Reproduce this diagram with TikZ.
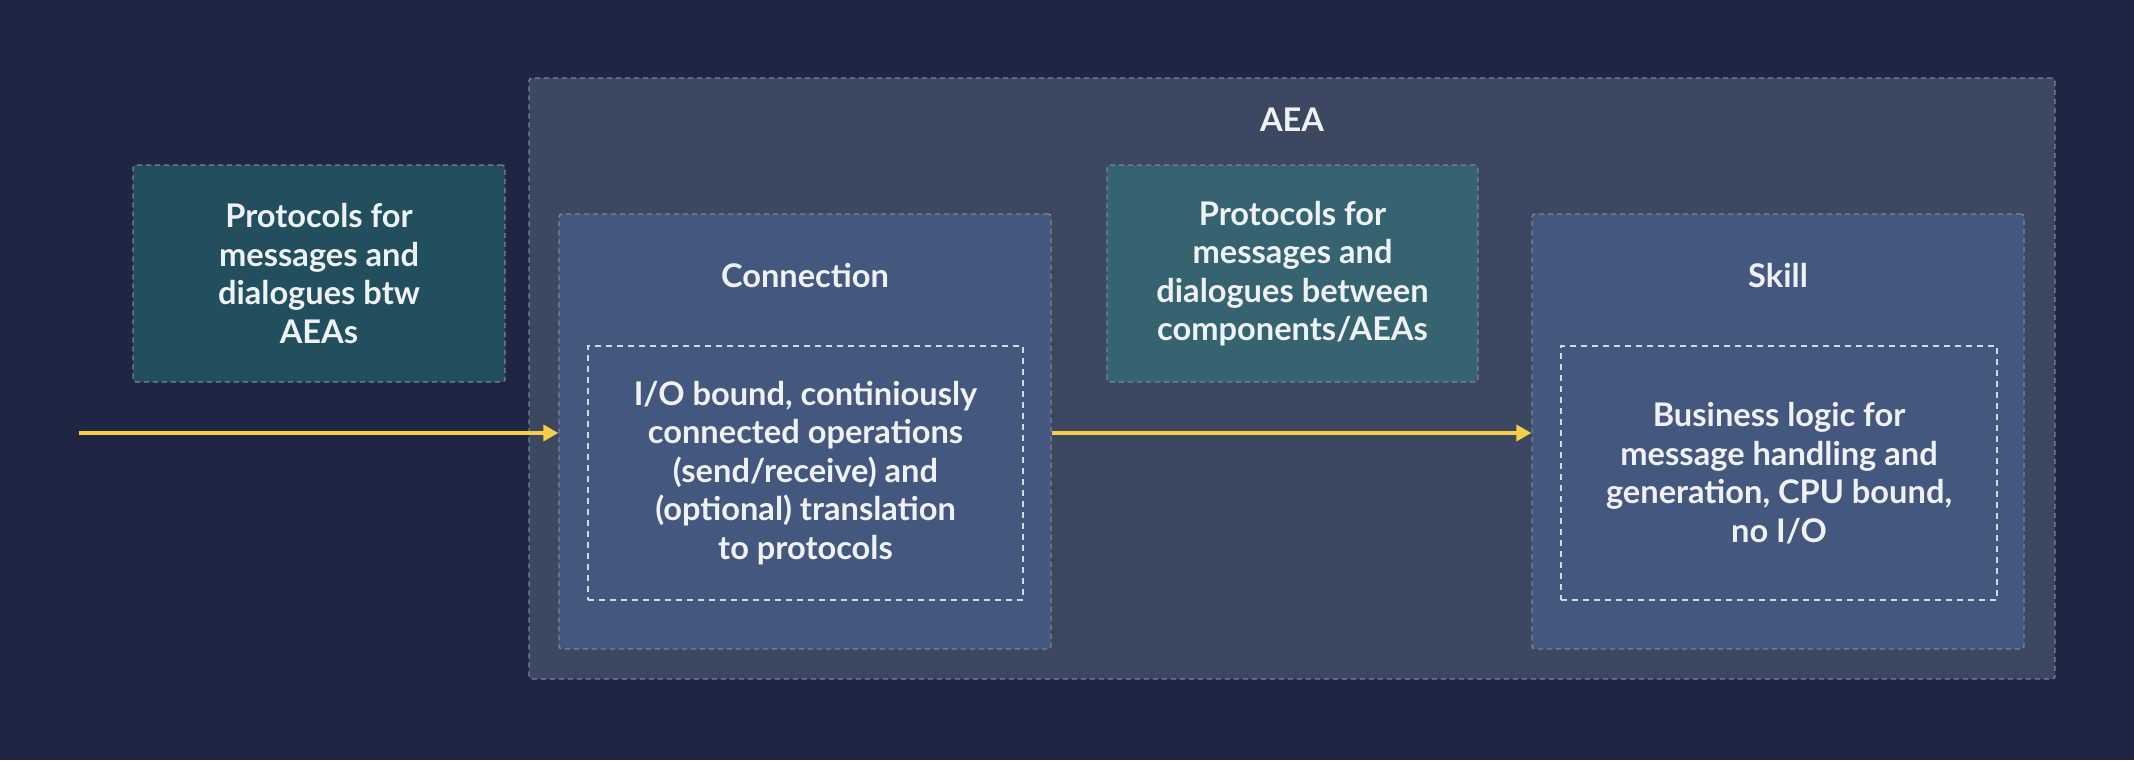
\documentclass[tikz,border=0pt]{standalone}
\usepackage{fontspec}
\setmainfont{Lato}
\usetikzlibrary{fit,arrows.meta}

\definecolor{bgc}{HTML}{1E2643}
\definecolor{aeac}{HTML}{3C4860}
\definecolor{compc}{HTML}{44587F}
\definecolor{protoout}{HTML}{224F5E}
\definecolor{protoin}{HTML}{35636F}
\definecolor{edgec}{HTML}{7A8299}
\definecolor{txtc}{HTML}{EEF1F6}
\definecolor{arrc}{HTML}{F7CE4A}

\tikzset{
  box/.style={inner sep=0pt, rounded corners=1.5pt, draw=edgec, line width=0.7pt,
              dash pattern=on 2.5pt off 2pt},
  innerbox/.style={inner sep=0pt, draw=txtc!85!compc, line width=0.7pt,
              dash pattern=on 3pt off 2.5pt},
  lbl/.style={align=center, text=txtc, inner sep=0pt,
              font=\fontsize{16.3}{19.25}\selectfont\bfseries},
  flow/.style={draw=arrc, line width=2pt, -{Triangle[length=7.5pt,width=8pt]}},
}

\begin{document}
\begin{tikzpicture}[x=0.5pt, y=-0.5pt]
  % canvas
  \fill[bgc] (0,0) rectangle (2134,760);
  \useasboundingbox (0,0) rectangle (2134,760);

  % agent frame
  \node[box, fill=aeac, fit={(529,78) (2055,679)}] (aea) {};
  \node[lbl] (aeat) at (1292,120) {AEA};

  % external protocol box
  \node[box, fill=protoout, fit={(133,165) (505,382)}] (lp) {};
  \node[lbl] (lpt) at (lp.center) {Protocols for\\messages and\\dialogues btw\\AEAs};

  % internal protocol box
  \node[box, fill=protoin, fit={(1107,165) (1478,382)}] (mp) {};
  \node[lbl] (mpt) at (mp.center) {Protocols for\\messages and\\dialogues between\\components/AEAs};

  % connection component
  \node[box, fill=compc, fit={(559,214) (1051,649)}] (conn) {};
  \node[lbl] (connt) at (805,276) {Connection};
  \node[innerbox, fit={(588,346) (1023,600)}] (conni) {};
  \node[lbl] (connd) at (conni.center) {I/O bound, continiously\\connected operations\\(send/receive) and\\(optional) translation\\to protocols};

  % skill component
  \node[box, fill=compc, fit={(1532,214) (2024,649)}] (skill) {};
  \node[lbl] (skillt) at (1778,276) {Skill};
  \node[innerbox, fit={(1561,346) (1997,600)}] (skilli) {};
  \node[lbl] (skilld) at (skilli.center) {Business logic for\\message handling and\\generation, CPU bound,\\no I/O};

  % message flow
  \coordinate (src) at (79,433);
  \draw[flow] (src) -- (src -| conn.west);
  \draw[flow] (conn.east |- src) -- (src -| skill.west);
\end{tikzpicture}
\end{document}
